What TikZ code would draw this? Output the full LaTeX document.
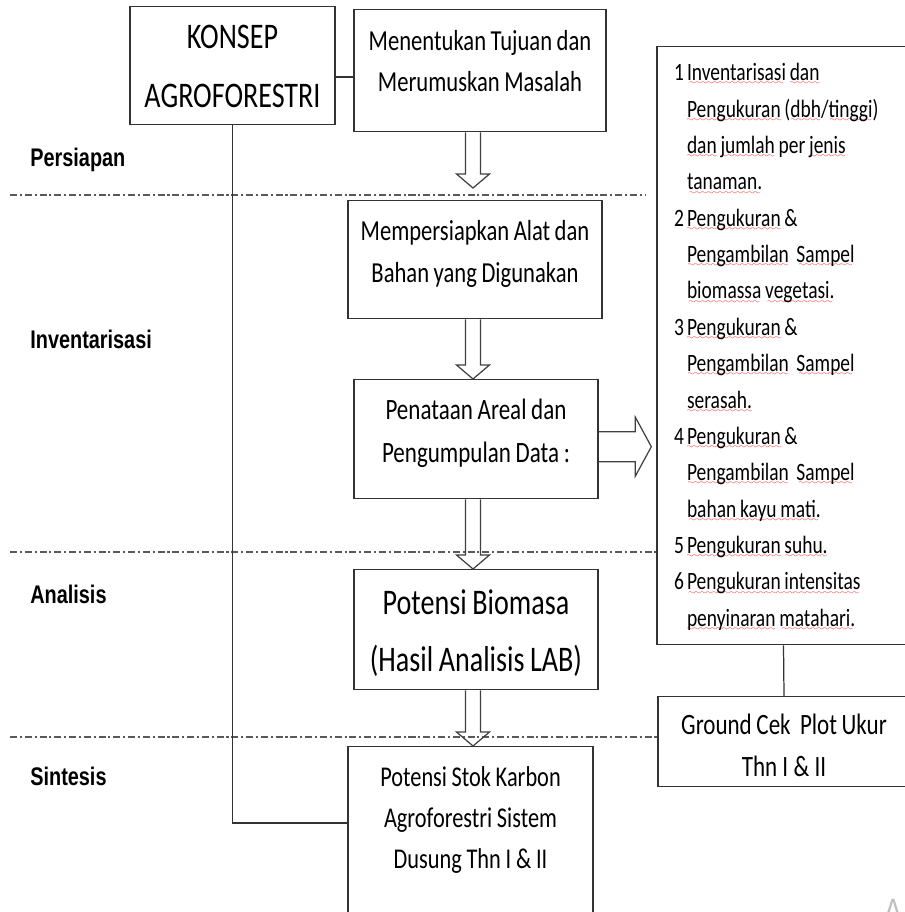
\documentclass[tikz,border=0pt]{standalone}
\usepackage{fontspec}
\usepackage{xcolor}
\usepackage{tikz}
\usetikzlibrary{calc,positioning}
\newfontfamily\boxfont{Carlito}[FakeStretch=0.78]
\newfontfamily\phasefont{Liberation Sans}[FakeStretch=0.78]
\font\squigfont=lasy6 at 4pt
\newcommand{\fsz}[2]{\fontsize{#1}{#2}\selectfont}
% spell-check squiggle under a word
\newcommand{\sq}[1]{\setbox0\hbox{#1}\leavevmode\rlap{\lower2.4pt\hbox to\wd0{\color{red}\squigfont\cleaders\hbox{\char58}\hfil}}\box0\relax}
\newcommand{\itemno}[1]{\makebox[0.26cm][l]{#1}}
\newcommand{\contd}{\hspace*{0.26cm}}
\tikzset{
    box/.style={rectangle, draw=black!80, line width=0.8pt, align=center, inner sep=0pt, anchor=north,
        execute at begin node={\spaceskip=0.15em plus 0.02em\relax\xspaceskip=\spaceskip}},
    conn/.style={draw=black!80, line width=0.7pt},
    hollow/.style={draw=black!75, line width=0.7pt},
    phase/.style={draw=black!65, line width=0.7pt, dash pattern=on 4pt off 1.6pt on 1.2pt off 1.6pt},
    phaselabel/.style={anchor=base west, inner sep=0pt, font=\phasefont\bfseries\fsz{14.5}{16}}
}
% hollow block arrow pointing down: from node, to node, gap above target
\newcommand{\hollowdown}[3]{%
    \coordinate (hs) at (#1.south -| axis);
    \coordinate (ht) at ($(#2.north -| axis)+(0,-#3)$);
    \draw[hollow] ($(hs)+(-7.5,0)$) -- ($(ht)+(-7.5,-14)$) -- ($(ht)+(-16.5,-14)$) -- (ht)
        -- ($(ht)+(16.5,-14)$) -- ($(ht)+(7.5,-14)$) -- ($(hs)+(7.5,0)$);
}

\begin{document}
\begin{tikzpicture}[x=0.02cm, y=-0.02cm]
    \useasboundingbox (0,0) rectangle (904,912);
    \coordinate (axis) at (473,0);

    % Phase separators
    \coordinate (sep1) at (10,195);
    \coordinate (sep2) at (10,552);
    \coordinate (sep3) at (10,737);

    % Phase labels
    \node[phaselabel] (persiapan) at (30,167) {Persiapan};
    \node[phaselabel] (inventarisasi) at (30,348) {Inventarisasi};
    \node[phaselabel] (analisis) at (30,603) {Analisis};
    \node[phaselabel] (sintesis) at (30,785) {Sintesis};

    % Main flow
    \node[box, text width=4.1cm, text height=0.84cm, text depth=1.52cm, font=\boxfont\fsz{20.5}{33.6}] (konsep) at (232.5,6) {KONSEP\\AGROFORESTRI};
    \node[box, text width=5.04cm, text height=0.82cm, text depth=1.62cm, font=\boxfont\fsz{16.5}{23.3}] (tujuan) at (480,9) {Menentukan Tujuan dan\\Merumuskan Masalah};
    \node[box, text width=5.08cm, text height=0.8cm, text depth=1.56cm, font=\boxfont\fsz{16.5}{23.6}] (alat) at (475,200) {Mempersiapkan Alat dan\\Bahan yang Digunakan};
    \node[box, text width=4.88cm, text height=0.8cm, text depth=1.58cm, font=\boxfont\fsz{16.8}{24.5}] (areal) at (476,379) {Penataan Areal dan\\Pengumpulan Data :};
    \node[box, text width=4.88cm, text height=0.9cm, text depth=1.5cm, font=\boxfont\fsz{20.5}{32.4}] (biomasa) at (476,569) {Potensi Biomasa\\(Hasil Analisis LAB)};
    \node[box, text width=4.9cm, text height=0.8cm, text depth=3.6cm, font=\boxfont\fsz{16.3}{23.3}] (stok) at (470.5,746) {Potensi Stok Karbon\\Agroforestri Sistem\\Dusung Thn I \& II};

    % Measurement list and ground check
    \node[box, align=left, inner xsep=0.34cm, text width=4.38cm, text height=0.68cm, text depth=11.28cm, font=\boxfont\fsz{14.2}{20.7}] (details) at (783.5,46) {%
        \itemno{1}\sq{Inventarisasi} \sq{dan}\\
        \contd\sq{Pengukuran} (\sq{dbh}/\sq{tinggi})\\
        \contd\sq{dan} \sq{jumlah} per \sq{jenis}\\
        \contd\sq{tanaman.}\\
        \itemno{2}\sq{Pengukuran} \&\\
        \contd\sq{Pengambilan}\ \ \sq{Sampel}\\
        \contd\sq{biomassa} \sq{vegetasi.}\\
        \itemno{3}\sq{Pengukuran} \&\\
        \contd\sq{Pengambilan}\ \ \sq{Sampel}\\
        \contd\sq{serasah.}\\
        \itemno{4}\sq{Pengukuran} \&\\
        \contd\sq{Pengambilan}\ \ \sq{Sampel}\\
        \contd\sq{bahan kayu mati.}\\
        \itemno{5}\sq{Pengukuran} \sq{suhu.}\\
        \itemno{6}\sq{Pengukuran intensitas}\\
        \contd\sq{penyinaran} \sq{matahari.}};
    \node[box, text width=5.04cm, text height=0.76cm, text depth=1.04cm, font=\boxfont\fsz{16.8}{23.9}] (ground) at (784,696) {Ground Cek\ \ Plot Ukur\\Thn I \& II};

    % Separator lines
    \draw[phase] (sep1) -- (645,195);
    \draw[phase] (sep2) -- (sep2 -| details.west);
    \draw[phase] (sep3) -- (sep3 -| ground.west);

    % Plain connectors
    \coordinate (link) at (0,77);
    \draw[conn] (konsep.east |- link) -- (tujuan.west |- link);
    \draw[conn] (konsep.south) |- ($(stok.north west)+(0,77)$);
    \draw[conn] (details.south) -- (ground.north);

    % Hollow block arrows
    \hollowdown{tujuan}{alat}{12}
    \hollowdown{alat}{areal}{0}
    \hollowdown{areal}{biomasa}{0}
    \hollowdown{biomasa}{stok}{0}
    \coordinate (ra) at ($(areal.east)+(0,7.5)$);
    \coordinate (rt) at ($(details.west |- ra)+(-5,0)$);
    \draw[hollow] ($(ra)+(0,-15)$) -- ($(rt)+(-16,-15)$) -- ($(rt)+(-16,-29.5)$) -- (rt)
        -- ($(rt)+(-16,29.5)$) -- ($(rt)+(-16,15)$) -- ($(ra)+(0,15)$);

    % Watermark fragment
    \node[anchor=north, inner sep=0pt, text=black!25, font=\phasefont\fsz{20}{20}] (mark) at (893,899) {A};
\end{tikzpicture}
\end{document}
